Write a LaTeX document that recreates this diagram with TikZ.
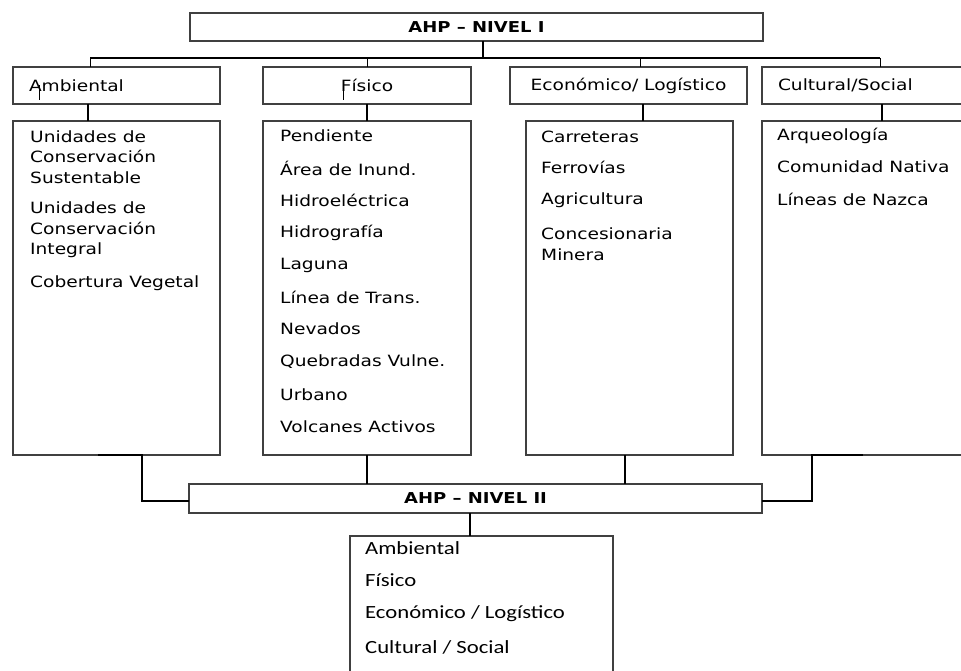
\documentclass[tikz,border=0pt]{standalone}
\usepackage{fontspec}
\setmainfont{DejaVu Sans}
\newfontfamily\itemfont[FakeStretch=1.2]{DejaVu Sans}
\newfontfamily\sumfont[FakeStretch=1.22]{Carlito}

\begin{document}
\begin{tikzpicture}[x=1pt, y=-1pt,
  box/.style = {draw=black!75, line width=1.2pt, rectangle, inner sep=0pt, outer sep=0pt},
  title/.style = {font=\itemfont\bfseries\fontsize{15}{18}\selectfont},
  cat/.style = {box, minimum width=207pt, minimum height=37pt, font=\itemfont\fontsize{15.5}{20}\selectfont},
  list/.style = {box, minimum width=207pt, minimum height=334pt},
  item/.style = {anchor=west, inner sep=0pt, align=left, font=\itemfont\fontsize{15.5}{20.5}\selectfont},
  sum/.style = {anchor=west, inner sep=0pt, font=\sumfont\fontsize{18.6}{22}\selectfont},
  wire/.style = {line width=1.6pt},
  tick/.style = {line width=1pt}]
\useasboundingbox (0,0) rectangle (961,671);

% nivel I
\node[box, title, minimum width=573pt, minimum height=28pt] (lvl1) at (476.5,27) {AHP – NIVEL I};

% criterios
\node[cat, text width=175pt, align=left] (amb) at (116.5,85.5) {Ambiental};
\node[cat, minimum width=208pt] (fis) at (367,85.5) {Físico};
\node[cat, minimum width=237pt] (eco) at (628.5,85.5) {Económico/ Logístico};
\node[cat, text width=175pt, align=left] (cul) at (865.5,85.5) {Cultural/Social};

% subcriterios
\node[list] (lamb) at (116.5,288) {};
\node[list, minimum width=208pt] (lfis) at (367,288) {};
\node[list] (leco) at (629.5,288) {};
\node[list] (lcul) at (865.5,288) {};

\node[item] (a1) at (30,157) {Unidades de\\Conservación\\Sustentable};
\node[item] (a2) at (30,230) {Unidades de\\Conservación\\Integral};
\node[item] (a3) at (30,283) {Cobertura Vegetal};

\node[item] (f1) at (280,136) {Pendiente};
\node[item] (f2) at (280,168) {Área de Inund.};
\node[item] (f3) at (280,200) {Hidroeléctrica};
\node[item] (f4) at (280,233) {Hidrografía};
\node[item] (f5) at (280,265) {Laguna};
\node[item] (f6) at (280,297) {Línea de Trans.};
\node[item] (f7) at (280,329) {Nevados};
\node[item] (f8) at (280,362) {Quebradas Vulne.};
\node[item] (f9) at (280,395) {Urbano};
\node[item] (f10) at (280,427) {Volcanes Activos};

\node[item] (e1) at (541,137) {Carreteras};
\node[item] (e2) at (541,167) {Ferrovías};
\node[item] (e3) at (541,200) {Agricultura};
\node[item] (e4) at (541,244) {Concesionaria\\Minera};

\node[item] (c1) at (777,136) {Arqueología};
\node[item] (c2) at (777,167) {Comunidad Nativa};
\node[item] (c3) at (777,199) {Líneas de Nazca};

% nivel II
\node[box, title, minimum width=573pt, minimum height=29pt] (lvl2) at (475.5,498.5) {AHP – NIVEL II};
\node[box, minimum width=263pt, minimum height=150pt] (lsum) at (481.5,611) {};
\node[sum] (s1) at (365,548) {Ambiental};
\node[sum] (s2) at (365,580) {Físico};
\node[sum] (s3) at (365,614) {Económico / Logístico};
\node[sum] (s4) at (365,647) {Cultural / Social};

% conectores
\coordinate (busL) at (90,58);
\coordinate (busR) at (880,58);
\coordinate (fork) at (483,58);
\draw[wire] (lvl1.south -| fork) -- (fork);
\draw[wire] (busL) -- (busR);
\draw[tick] (busL) -- (busL |- amb.north);
\draw[tick] (fis.north |- busL) -- (fis.north);
\draw[tick] ([xshift=11.5pt]eco.north |- busL) -- ([xshift=11.5pt]eco.north);
\draw[tick] (busR) -- (busR |- cul.north);
\draw[tick] ([xshift=26pt]amb.west) -- ++(0,15);
\draw[tick] ([xshift=80pt]fis.west) -- ++(0,15);

\draw[wire] ([xshift=-28.5pt]amb.south) -- ([xshift=-28.5pt]lamb.north);
\draw[wire] (fis.south) -- (lfis.north);
\draw[wire] ([xshift=14.5pt]eco.south) -- ([xshift=13.5pt]leco.north);
\draw[wire] ([xshift=16.5pt]cul.south) -- ([xshift=16.5pt]lcul.north);

\draw[wire] ([xshift=-18.5pt]lamb.south) -- ++(44,0) |- ([yshift=-2.5pt]lvl2.west);
\draw[wire] (lfis.south) -- (lfis.south |- lvl2.north);
\draw[wire] ([xshift=-4.5pt]leco.south) -- ([xshift=-4.5pt]leco.south |- lvl2.north);
\draw[wire] ([xshift=-2.5pt]lcul.south) -- ++(-51,0) |- ([yshift=-2.5pt]lvl2.east);
\draw[wire] ([xshift=-5.5pt]lvl2.south) -- ([xshift=-5.5pt]lvl2.south |- lsum.north);
\end{tikzpicture}
\end{document}
